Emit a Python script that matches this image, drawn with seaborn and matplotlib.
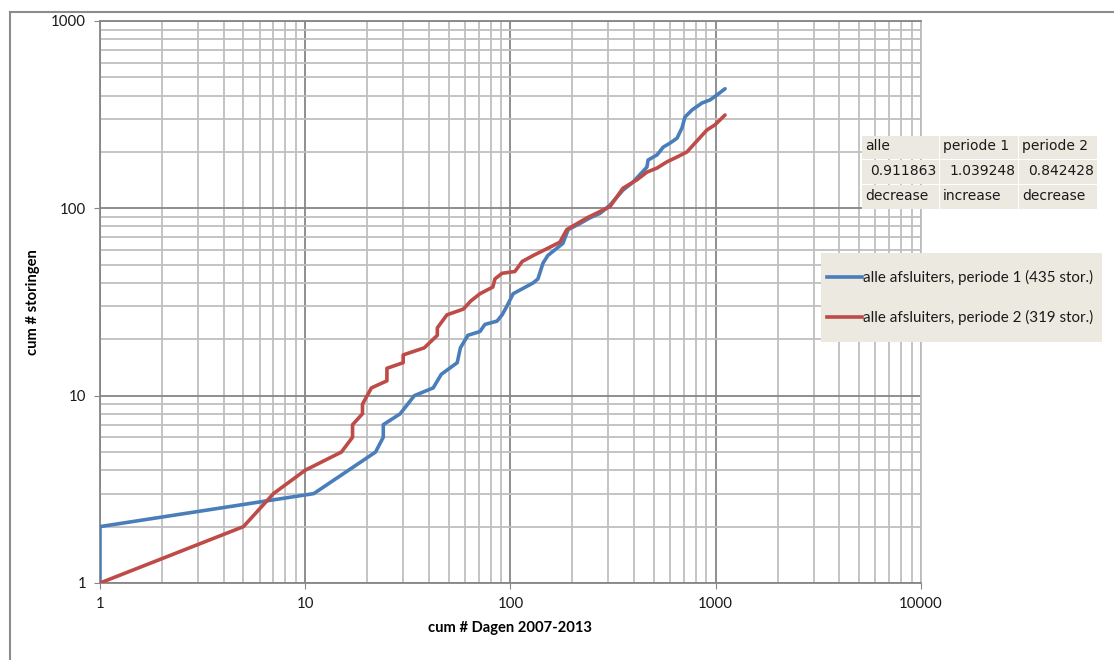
import matplotlib
matplotlib.use("Agg")
import pandas as pd
import numpy as np
import matplotlib.pyplot as plt
import matplotlib.ticker as ticker
from matplotlib.patches import Rectangle
from matplotlib.lines import Line2D
import seaborn as sns

# periode 1 (blue)
days_p1 = [1, 1, 11, 22, 24, 24, 29, 34, 42, 46, 55, 57, 62, 71, 75, 86, 91, 96, 103,
           129, 136, 144, 152, 180, 191, 218, 244, 273, 305, 353, 395, 462, 468, 518,
           554, 599, 648, 685, 708, 766, 857, 938, 1014, 1110]
cum_p1 = [1, 2, 3, 5, 6, 7, 8, 10, 11, 13, 15, 18, 21, 22, 24, 25, 27, 30, 35,
          40, 42, 51, 56, 65, 77, 83, 89, 94, 104, 125, 138, 166, 181, 193,
          212, 223, 237, 269, 307, 335, 365, 379, 403, 435]

# periode 2 (red)
days_p2 = [1, 5, 7, 10, 15, 17, 17, 19, 19, 21, 25, 25, 30, 30, 38, 44, 44, 49, 59,
           64, 71, 82, 84, 91, 105, 114, 129, 151, 174, 188, 236, 305, 353, 413, 462,
           517, 578, 648, 724, 792, 906, 991, 1110]
cum_p2 = [1, 2, 3, 4, 5, 6, 7, 8, 9, 11, 12, 14, 15, 16.5, 18, 21, 23, 27, 29,
          32, 35, 38, 42, 45, 46, 52, 56, 61, 66, 77, 89, 102, 128, 142, 156,
          164, 177, 188, 200, 223, 262, 279, 315]

series_names = ["alle afsluiters, periode 1 (435 stor.)",
                "alle afsluiters, periode 2 (319 stor.)"]
series_colors = ["#4a7ebb", "#be4b48"]

table_header = ["alle", "periode 1", "periode 2"]
table_values = ["0.911863", "1.039248", "0.842428"]
table_trend = ["decrease", "increase", "decrease"]

df = pd.concat([
    pd.DataFrame({"dagen": days_p1, "storingen": cum_p1, "reeks": series_names[0]}),
    pd.DataFrame({"dagen": days_p2, "storingen": cum_p2, "reeks": series_names[1]}),
])

W, H = 1114, 660
fig = plt.figure(figsize=(W / 100, H / 100), dpi=100)
ax = fig.add_axes([100 / W, 1 - 583 / H, 821 / W, 562 / H])

handles = []
for name, col in zip(series_names, series_colors):
    sub = df[df["reeks"] == name]
    sns.lineplot(data=sub, x="dagen", y="storingen", sort=False, estimator=None,
                 color=col, linewidth=2.6, ax=ax)
    handles.append(Line2D([], [], color=col, linewidth=2.6))
for l in ax.lines:
    l.set_solid_joinstyle("round")
    l.set_solid_capstyle("round")
    l.set_zorder(3)

ax.set_xscale("log")
ax.set_yscale("log")
ax.set_xlim(1, 10000)
ax.set_ylim(1, 1000)

ax.xaxis.set_major_locator(ticker.LogLocator(base=10))
ax.yaxis.set_major_locator(ticker.LogLocator(base=10))
ax.xaxis.set_minor_locator(ticker.LogLocator(base=10, subs=np.arange(2, 10)))
ax.yaxis.set_minor_locator(ticker.LogLocator(base=10, subs=np.arange(2, 10)))
fmt = ticker.FuncFormatter(lambda v, _: f"{v:g}")
ax.xaxis.set_major_formatter(fmt)
ax.yaxis.set_major_formatter(fmt)
ax.xaxis.set_minor_formatter(ticker.NullFormatter())
ax.yaxis.set_minor_formatter(ticker.NullFormatter())

ax.grid(which="major", color="#868686", linewidth=1.3)
ax.grid(which="minor", color="#bfbfbf", linewidth=1.3)
ax.set_axisbelow(True)
for s in ax.spines.values():
    s.set_color("#868686")
    s.set_linewidth(1.3)
ax.spines["right"].set_color("#bfbfbf")
ax.tick_params(which="major", direction="out", length=4, color="#868686",
               labelsize=10.8, labelcolor="#1a1a1a", pad=6)
ax.tick_params(which="minor", length=0)
for lab in ax.get_xticklabels() + ax.get_yticklabels():
    lab.set_family("Lato")

ax.set_xlabel("cum # Dagen 2007-2013", fontsize=10.6, fontweight="bold",
              family="Lato", labelpad=7)
ax.set_ylabel("cum # storingen", fontsize=10.6, fontweight="bold",
              family="Lato", labelpad=8)

# legend: beige panel with the entries placed inside
fig.patches.append(Rectangle((821 / W, 1 - 342 / H), 281 / W, 89 / H,
                             transform=fig.transFigure, facecolor="#ece9e1",
                             edgecolor="none"))
leg = fig.legend(handles, series_names, loc="center left",
                 bbox_to_anchor=(827 / W, 1 - 297.5 / H), frameon=False,
                 handlelength=2.3, handletextpad=0.1, labelspacing=1.65,
                 borderpad=0, borderaxespad=0,
                 prop={"family": "Lato", "size": 10.9})
for t in leg.get_texts():
    t.set_color("#1a1a1a")

# small result table
col_edges = [862, 940, 1019, 1098]
row_edges = [134, 159, 184, 209]
rows = [table_header, table_values, table_trend]
for r, row in enumerate(rows):
    for c, txt in enumerate(row):
        x0, x1 = col_edges[c], col_edges[c + 1]
        y0, y1 = row_edges[r], row_edges[r + 1]
        fig.patches.append(Rectangle((x0 / W, 1 - y1 / H), (x1 - x0 - 1.5) / W,
                                     (y1 - y0 - 1.5) / H, transform=fig.transFigure,
                                     facecolor="#ece9e1", edgecolor="none"))
        yc = 1 - (y0 + y1 - 1.5) / 2 / H
        if r == 1:
            fig.text((x1 - 4) / W, yc, txt, ha="right", va="center",
                     fontsize=10, family="DejaVu Sans", color="#1a1a1a")
        else:
            fig.text((x0 + 3) / W, yc, txt, ha="left", va="center",
                     fontsize=10, family="DejaVu Sans", color="#1a1a1a")

# outer chart border (top and left visible)
fig.add_artist(Line2D([10 / W, 1.0], [1 - 12 / H, 1 - 12 / H], color="#8c8c8c",
                      linewidth=1.5, transform=fig.transFigure))
fig.add_artist(Line2D([10 / W, 10 / W], [0, 1 - 12 / H], color="#8c8c8c",
                      linewidth=1.5, transform=fig.transFigure))

fig.savefig("out.png", dpi=100)
